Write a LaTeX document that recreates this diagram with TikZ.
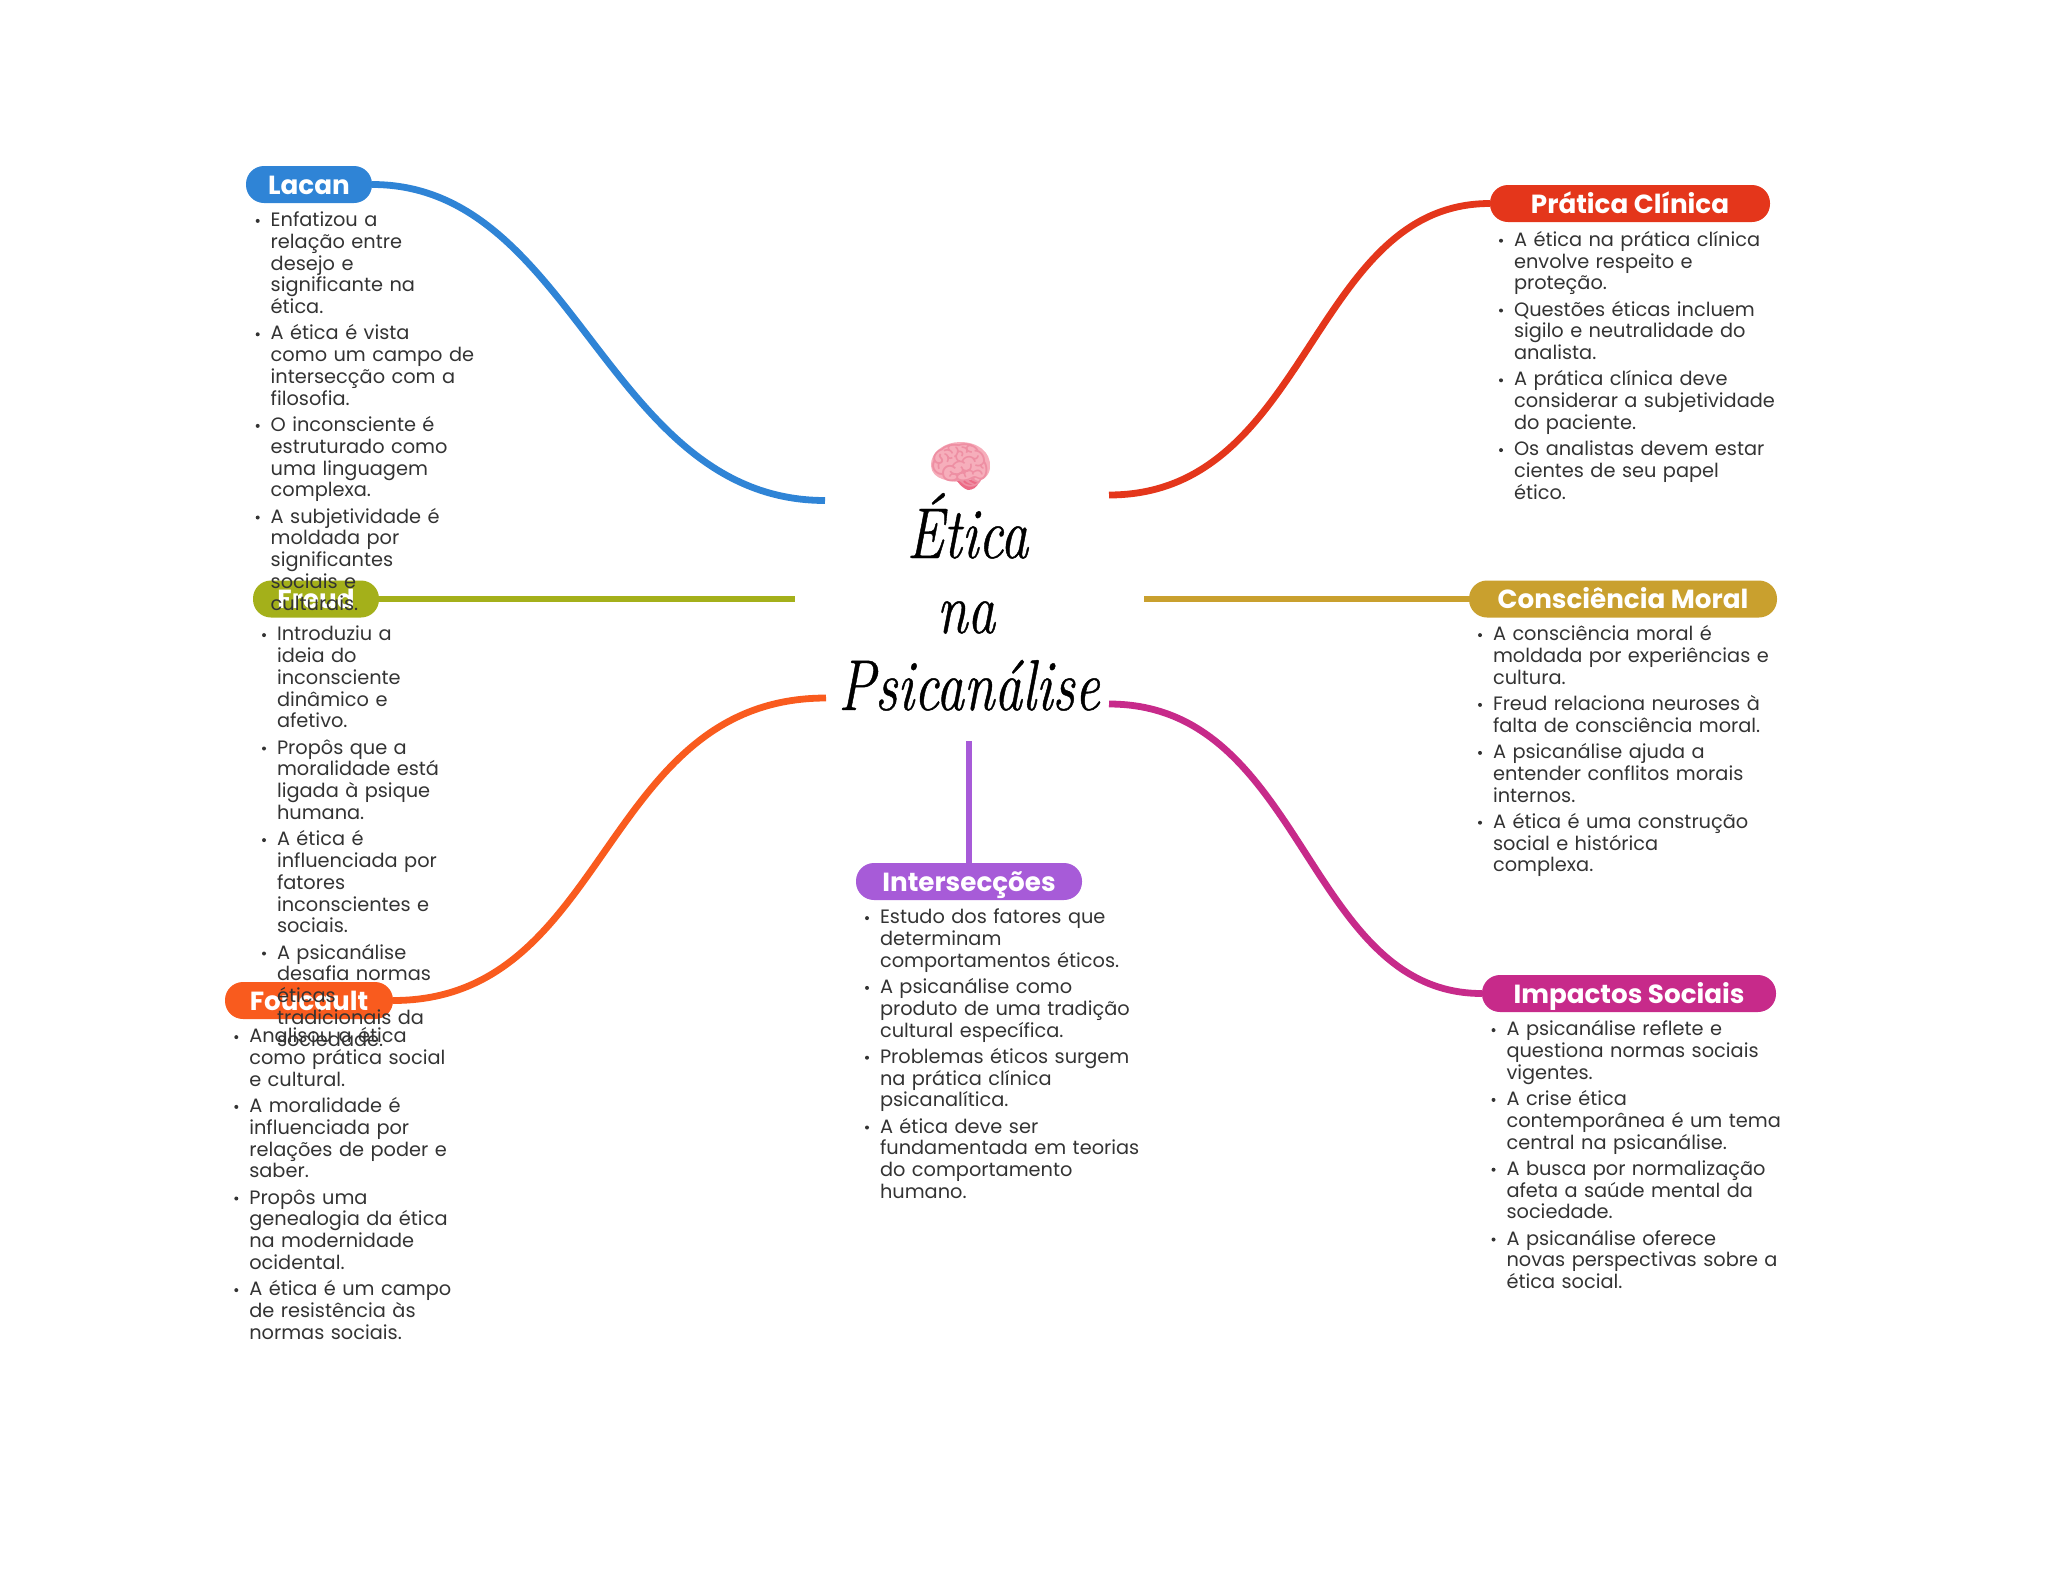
\documentclass[tikz,border=0pt]{standalone}
\usepackage{fontspec}
\setmainfont{Poppins}
\newfontfamily\emojifont{Noto Emoji}
\newfontfamily\titlefont[FakeStretch=0.77,FakeBold=0.6]{Latin Modern Roman}
\definecolor{cblue}{HTML}{2F84D6}
\definecolor{cred}{HTML}{E4361B}
\definecolor{colive}{HTML}{A4B01A}
\definecolor{cgold}{HTML}{C9A02E}
\definecolor{corange}{HTML}{F95B1E}
\definecolor{cmag}{HTML}{C72A8A}
\definecolor{cpurple}{HTML}{A75BD8}
\definecolor{ctext}{HTML}{333333}
\definecolor{bbase}{HTML}{F6AEBB}
\definecolor{bline}{HTML}{EE8FA3}
\definecolor{bstem}{HTML}{EC6A85}
\newcommand\itm[1]{\leavevmode\rule{0pt}{16pt}\llap{\raisebox{3.6pt}{\tikz\fill[ctext] (0,0) circle (2pt);}\hspace{11pt}}#1\par}
\newcommand\lstfmt{\fontsize{19.35}{21.8}\selectfont\lineskiplimit=-50pt\setlength\parskip{4.4pt}\setlength\parindent{0pt}}
\tikzset{
  x=1pt,y=-1pt,
  pill/.style={rectangle,rounded corners=18pt,minimum height=37pt,inner sep=0pt,text height=22pt,text depth=3pt,text=white,font=\fontsize{26.2}{28}\selectfont\bfseries},
  conn/.style={line width=6.8pt,line cap=butt},
  lst/.style={anchor=north west,inner sep=0pt,outer sep=0pt,text width=330pt,align=left,text=ctext,font=\lstfmt},
  ttl/.style={anchor=base,inner sep=0pt,font=\fontsize{72}{80}\selectfont\titlefont\itshape}
}
\begin{document}
\begin{tikzpicture}
\useasboundingbox (0,0) rectangle (2048,1569);
% free ends
\coordinate (eblue) at (825,500.5);
\coordinate (ered) at (1109,495);
\coordinate (eolive) at (795,599);
\coordinate (egold) at (1144,599);
\coordinate (eorange) at (826,698);
\coordinate (emag) at (1109,704);
\coordinate (epurple) at (969,741);
% pills
\node[pill,fill=cblue,minimum width=126pt] (lacan) at (309,184.5) {Lacan};
\node[pill,fill=cred,minimum width=280pt] (clinica) at (1630,203.5) {Prática Clínica};
\node[pill,fill=colive,minimum width=126pt] (freud) at (316,599) {Freud};
\node[pill,fill=cgold,minimum width=308pt] (moral) at (1623,599) {Consciência Moral};
\node[pill,fill=corange,minimum width=168pt] (foucault) at (309,1000.5) {Foucault};
\node[pill,fill=cpurple,minimum width=226pt] (inter) at (969,881.5) {Intersecções};
\node[pill,fill=cmag,minimum width=294pt] (sociais) at (1629,993.5) {Impactos Sociais};
% connectors
\draw[conn,cblue] (lacan.east) .. controls (575,184.5) and (607,500.5) .. (eblue);
\draw[conn,cred] (ered) .. controls (1310,495) and (1310,203.5) .. (clinica.west);
\draw[conn,colive] (freud.east) -- (eolive);
\draw[conn,cgold] (egold) -- (moral.west);
\draw[conn,corange] (foucault.east) .. controls (610,1000.5) and (600,698) .. (eorange);
\draw[conn,cmag] (emag) .. controls (1305,704) and (1305,993.5) .. (sociais.west);
\draw[conn,cpurple] (epurple) -- (inter.north);
% centre
\fill[bbase] (931,466) .. controls (930,452) and (945,442) .. (960,442) .. controls (978,442) and (991,452) .. (990,467) .. controls (990,476) and (982,481) .. (975,482) -- (966,482) .. controls (950,482) and (932,480) .. (931,466) -- cycle;
\fill[bstem] (957,481) .. controls (965,479) and (975,480) .. (979,482) .. controls (977,488) and (972,490) .. (968,490) .. controls (964,489) and (960,485) .. (957,481) -- cycle;
\node[inner sep=0pt,text=bline,font=\fontsize{50}{50}\selectfont\emojifont] (brain) at (960.5,465) {🧠};
\node[ttl] (t1) at (967.5,558) {Ética};
\node[ttl] (t2) at (966,633) {na};
\node[ttl] (t3) at (969,710) {Psicanálise};
% lists
\node[lst] (llacan) at (270.7,210.5) {%
\itm{Enfatizou a\newline relação entre\newline desejo e\newline significante na\newline ética.}
\itm{A ética é vista\newline como um campo de\newline intersecção com a\newline filosofia.}
\itm{O inconsciente é\newline estruturado como\newline uma linguagem\newline complexa.}
\itm{A subjetividade é\newline moldada por\newline significantes\newline sociais e\newline culturais.}};
\node[lst] (lclinica) at (1514,230.3) {%
\itm{A ética na prática clínica\newline envolve respeito e\newline proteção.}
\itm{Questões éticas incluem\newline sigilo e neutralidade do\newline analista.}
\itm{A prática clínica deve\newline considerar a subjetividade\newline do paciente.}
\itm{Os analistas devem estar\newline cientes de seu papel\newline ético.}};
\node[lst] (lfreud) at (277,624.7) {%
\itm{Introduziu a\newline ideia do\newline inconsciente\newline dinâmico e\newline afetivo.}
\itm{Propôs que a\newline moralidade está\newline ligada à psique\newline humana.}
\itm{A ética é\newline influenciada por\newline fatores\newline inconscientes e\newline sociais.}
\itm{A psicanálise\newline desafia normas\newline éticas\newline tradicionais da\newline sociedade.}};
\node[lst] (lmoral) at (1493,624.7) {%
\itm{A consciência moral é\newline moldada por experiências e\newline cultura.}
\itm{Freud relaciona neuroses à\newline falta de consciência moral.}
\itm{A psicanálise ajuda a\newline entender conflitos morais\newline internos.}
\itm{A ética é uma construção\newline social e histórica\newline complexa.}};
\node[lst] (lfoucault) at (249.3,1026.7) {%
\itm{Analisou a ética\newline como prática social\newline e cultural.}
\itm{A moralidade é\newline influenciada por\newline relações de poder e\newline saber.}
\itm{Propôs uma\newline genealogia da ética\newline na modernidade\newline ocidental.}
\itm{A ética é um campo\newline de resistência às\newline normas sociais.}};
\node[lst] (linter) at (880,907.7) {%
\itm{Estudo dos fatores que\newline determinam\newline comportamentos éticos.}
\itm{A psicanálise como\newline produto de uma tradição\newline cultural específica.}
\itm{Problemas éticos surgem\newline na prática clínica\newline psicanalítica.}
\itm{A ética deve ser\newline fundamentada em teorias\newline do comportamento\newline humano.}};
\node[lst] (lsociais) at (1506.5,1019.7) {%
\itm{A psicanálise reflete e\newline questiona normas sociais\newline vigentes.}
\itm{A crise ética\newline contemporânea é um tema\newline central na psicanálise.}
\itm{A busca por normalização\newline afeta a saúde mental da\newline sociedade.}
\itm{A psicanálise oferece\newline novas perspectivas sobre a\newline ética social.}};
\end{tikzpicture}
\end{document}
